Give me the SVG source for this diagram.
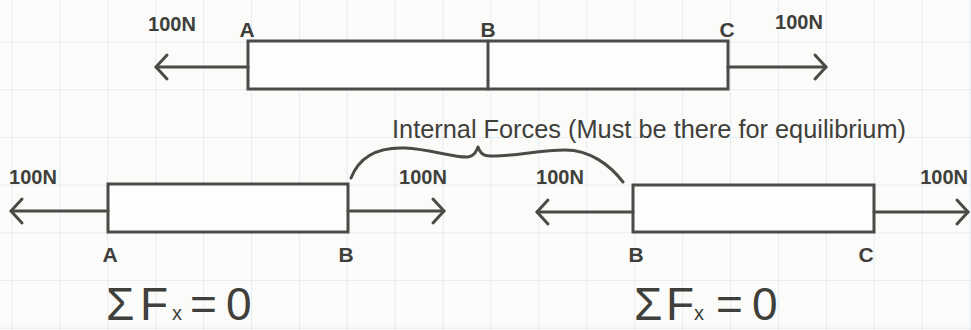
<svg xmlns="http://www.w3.org/2000/svg" width="971" height="330" viewBox="0 0 971 330">
<style>
.ln{stroke:#4a4a46;stroke-width:3;fill:none;stroke-linecap:round;stroke-linejoin:round}
.bar{stroke:#4a4a46;stroke-width:3;fill:#fdfdfd}
.t{font-family:"Liberation Sans",Arial,sans-serif;fill:#3f3f3b}
.f{font-size:20px;font-weight:bold}
.lab{font-size:21px;font-weight:bold}
.note{font-size:25px}
.eq{font-size:46px}
.sub{font-size:20px}
</style>
<defs>
<pattern id="grid" x="11.5" y="41.5" width="47.9" height="47.7" patternUnits="userSpaceOnUse">
<path d="M0,0 H47.9 M0,0 V47.7" stroke="#d3dde9" stroke-width="1" fill="none"/>
</pattern>
<marker id="head" markerUnits="userSpaceOnUse" markerWidth="30" markerHeight="30" viewBox="-15 -15 30 30" refX="0" refY="0" orient="auto">
<path d="M-11,-12 L0,0 L-11,12" stroke="#4a4a46" stroke-width="3" fill="none" stroke-linecap="round" stroke-linejoin="round"/>
</marker>
</defs>
<rect width="971" height="330" fill="#fbfbfa"/>
<rect width="971" height="330" fill="url(#grid)"/>

<g id="top-bar">
<rect class="bar" x="248" y="41" width="480" height="48"/>
<line class="ln" x1="488" y1="41" x2="488" y2="89"/>
<text class="t lab" x="247" y="37" text-anchor="middle">A</text>
<text class="t lab" x="488" y="37" text-anchor="middle">B</text>
<text class="t lab" x="727" y="37" text-anchor="middle">C</text>
</g>

<g id="left-bar">
<rect class="bar" x="108" y="184" width="240" height="48"/>
<text class="t lab" x="110" y="262" text-anchor="middle">A</text>
<text class="t lab" x="346" y="262" text-anchor="middle">B</text>
</g>

<g id="right-bar">
<rect class="bar" x="633" y="185" width="241" height="47"/>
<text class="t lab" x="636" y="262" text-anchor="middle">B</text>
<text class="t lab" x="866" y="262" text-anchor="middle">C</text>
</g>

<g id="connectors">
<line class="ln" x1="248" y1="67" x2="156" y2="67" marker-end="url(#head)"/>
<line class="ln" x1="728" y1="67" x2="826" y2="67" marker-end="url(#head)"/>
<line class="ln" x1="108" y1="211" x2="11" y2="211" marker-end="url(#head)"/>
<line class="ln" x1="348" y1="211" x2="444" y2="211" marker-end="url(#head)"/>
<line class="ln" x1="633" y1="212" x2="537" y2="212" marker-end="url(#head)"/>
<line class="ln" x1="874" y1="212" x2="968" y2="212" marker-end="url(#head)"/>
<path class="ln" stroke-width="2.5" d="M351,178 C360,155 380,147 405,148 C430,149 455,158 468,157 C474,156 476,152 478,147 C480,152 482,156 490,156 C510,157 540,150 565,150 C590,150 610,165 623,182"/>
</g>

<g id="force-labels">
<text class="t f" x="172" y="31" text-anchor="middle">100N</text>
<text class="t f" x="799" y="29" text-anchor="middle">100N</text>
<text class="t f" x="33" y="184" text-anchor="middle">100N</text>
<text class="t f" x="423" y="184" text-anchor="middle">100N</text>
<text class="t f" x="560" y="184" text-anchor="middle">100N</text>
<text class="t f" x="968" y="184" text-anchor="end">100N</text>
</g>

<g id="note">
<text class="t note" x="392" y="138" textLength="514" lengthAdjust="spacingAndGlyphs">Internal Forces (Must be there for equilibrium)</text>
</g>

<g id="equations">
<text class="t eq" y="320"><tspan x="106">Σ</tspan><tspan x="140">F</tspan><tspan class="sub" x="172">x</tspan><tspan x="190">=</tspan><tspan x="226">0</tspan></text>
<text class="t eq" y="320"><tspan x="634">Σ</tspan><tspan x="666">F</tspan><tspan class="sub" x="694">x</tspan><tspan x="716">=</tspan><tspan x="752">0</tspan></text>
</g>
</svg>
